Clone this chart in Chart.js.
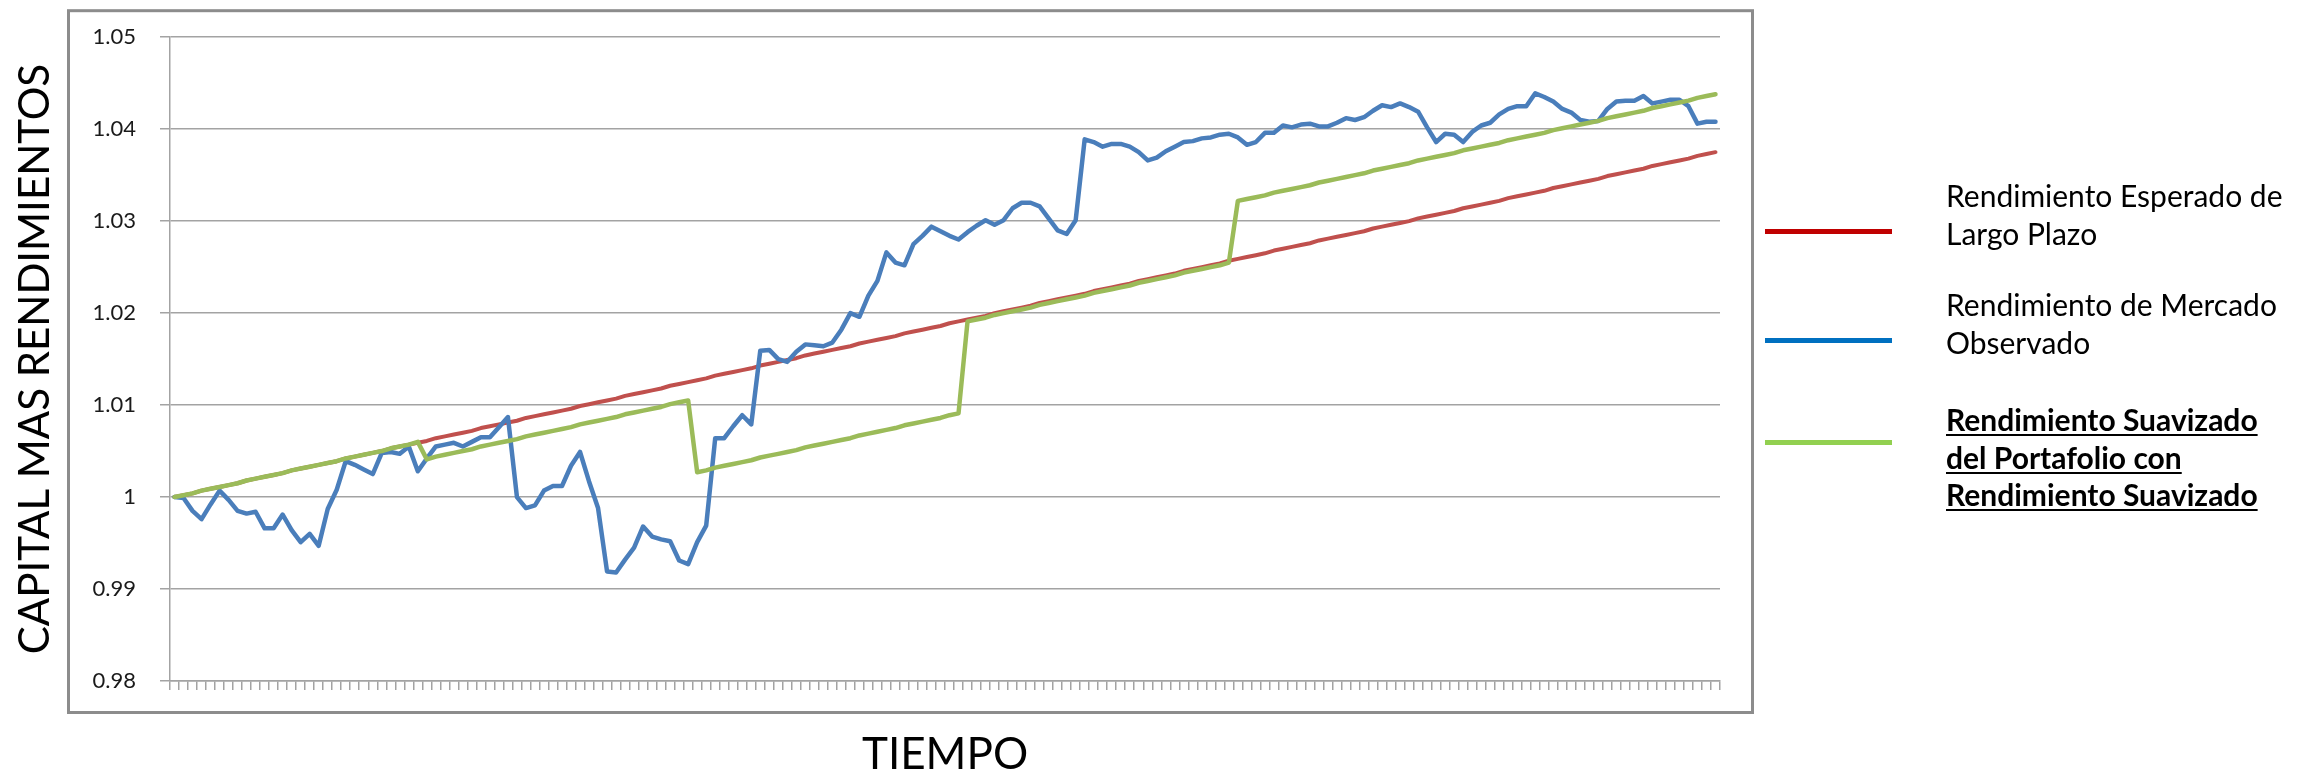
<!DOCTYPE html>
<html>
<head>
<meta charset="utf-8">
<title>Capital mas rendimientos</title>
<script src="https://cdn.jsdelivr.net/npm/chart.js@4.4.1/dist/chart.umd.min.js"></script>
<style>
  html, body { margin: 0; padding: 0; background: #fff; }
  #wrap { position: relative; width: 2312px; height: 773px; overflow: hidden; }
  #chart { position: absolute; left: 0; top: 0; }
  .swatch { position: absolute; left: 1765px; width: 127px; height: 5px; }
  .entry { position: absolute; left: 1946px; font-family: Lato, sans-serif; font-size: 30px;
           line-height: 37.5px; color: #000; white-space: nowrap; }
  .entry.strong { font-weight: bold; text-decoration: underline; text-decoration-thickness: 2px;
                  text-underline-offset: 3px; }
</style>
</head>
<body>
<div id="wrap">
  <canvas id="chart" width="2312" height="773"></canvas>
  <div id="legend"></div>
</div>
<script>
// periodos (eje x sin etiquetas)
var periods = Array.from({ length: 172 }, (_, i) => i + 1);

var yTickValues = [0.98, 0.99, 1.00, 1.01, 1.02, 1.03, 1.04, 1.05];
var yTickLabels = ['0.98', '0.99', '1', '1.01', '1.02', '1.03', '1.04', '1.05'];

var seriesNames = [
    'Rendimiento Esperado de Largo Plazo',
    'Rendimiento de Mercado Observado',
    'Rendimiento Suavizado del Portafolio con Rendimiento Suavizado'
];
var legendLines = [
    ['Rendimiento Esperado de', 'Largo Plazo'],
    ['Rendimiento de Mercado', 'Observado'],
    ['Rendimiento Suavizado', 'del Portafolio con', 'Rendimiento Suavizado']
];

var esperado = [
    1.0000, 1.0002, 1.0004, 1.0007, 1.0009, 1.0011, 1.0013, 1.0015, 1.0018, 1.0020,
    1.0022, 1.0024, 1.0026, 1.0029, 1.0031, 1.0033, 1.0035, 1.0037, 1.0039, 1.0042,
    1.0044, 1.0046, 1.0048, 1.0050, 1.0053, 1.0055, 1.0057, 1.0059, 1.0061, 1.0064,
    1.0066, 1.0068, 1.0070, 1.0072, 1.0075, 1.0077, 1.0079, 1.0081, 1.0083, 1.0086,
    1.0088, 1.0090, 1.0092, 1.0094, 1.0096, 1.0099, 1.0101, 1.0103, 1.0105, 1.0107,
    1.0110, 1.0112, 1.0114, 1.0116, 1.0118, 1.0121, 1.0123, 1.0125, 1.0127, 1.0129,
    1.0132, 1.0134, 1.0136, 1.0138, 1.0140, 1.0143, 1.0145, 1.0147, 1.0149, 1.0151,
    1.0154, 1.0156, 1.0158, 1.0160, 1.0162, 1.0164, 1.0167, 1.0169, 1.0171, 1.0173,
    1.0175, 1.0178, 1.0180, 1.0182, 1.0184, 1.0186, 1.0189, 1.0191, 1.0193, 1.0195,
    1.0197, 1.0200, 1.0202, 1.0204, 1.0206, 1.0208, 1.0211, 1.0213, 1.0215, 1.0217,
    1.0219, 1.0221, 1.0224, 1.0226, 1.0228, 1.0230, 1.0232, 1.0235, 1.0237, 1.0239,
    1.0241, 1.0243, 1.0246, 1.0248, 1.0250, 1.0252, 1.0254, 1.0257, 1.0259, 1.0261,
    1.0263, 1.0265, 1.0268, 1.0270, 1.0272, 1.0274, 1.0276, 1.0279, 1.0281, 1.0283,
    1.0285, 1.0287, 1.0289, 1.0292, 1.0294, 1.0296, 1.0298, 1.0300, 1.0303, 1.0305,
    1.0307, 1.0309, 1.0311, 1.0314, 1.0316, 1.0318, 1.0320, 1.0322, 1.0325, 1.0327,
    1.0329, 1.0331, 1.0333, 1.0336, 1.0338, 1.0340, 1.0342, 1.0344, 1.0346, 1.0349,
    1.0351, 1.0353, 1.0355, 1.0357, 1.0360, 1.0362, 1.0364, 1.0366, 1.0368, 1.0371,
    1.0373, 1.0375
];

var mercado = [
    1.0000, 0.9999, 0.9985, 0.9976, 0.9992, 1.0007, 0.9997, 0.9985, 0.9982, 0.9984,
    0.9966, 0.9966, 0.9981, 0.9964, 0.9951, 0.9960, 0.9947, 0.9987, 1.0008, 1.0039,
    1.0035, 1.0030, 1.0025, 1.0048, 1.0049, 1.0047, 1.0055, 1.0028, 1.0042, 1.0055,
    1.0057, 1.0059, 1.0055, 1.0060, 1.0065, 1.0065, 1.0076, 1.0087, 1.0000, 0.9988,
    0.9991, 1.0007, 1.0012, 1.0012, 1.0034, 1.0049, 1.0017, 0.9988, 0.9919, 0.9918,
    0.9932, 0.9945, 0.9968, 0.9957, 0.9954, 0.9952, 0.9931, 0.9927, 0.9951, 0.9969,
    1.0064, 1.0064, 1.0077, 1.0089, 1.0079, 1.0159, 1.0160, 1.0150, 1.0147, 1.0158,
    1.0166, 1.0165, 1.0164, 1.0168, 1.0182, 1.0200, 1.0196, 1.0219, 1.0235, 1.0266,
    1.0255, 1.0252, 1.0275, 1.0284, 1.0294, 1.0289, 1.0284, 1.0280, 1.0288, 1.0295,
    1.0301, 1.0296, 1.0301, 1.0314, 1.0320, 1.0320, 1.0316, 1.0303, 1.0290, 1.0286,
    1.0301, 1.0389, 1.0386, 1.0381, 1.0384, 1.0384, 1.0381, 1.0375, 1.0366, 1.0369,
    1.0376, 1.0381, 1.0386, 1.0387, 1.0390, 1.0391, 1.0394, 1.0395, 1.0391, 1.0383,
    1.0386, 1.0396, 1.0396, 1.0404, 1.0402, 1.0405, 1.0406, 1.0403, 1.0403, 1.0407,
    1.0412, 1.0410, 1.0413, 1.0420, 1.0426, 1.0424, 1.0428, 1.0424, 1.0419, 1.0402,
    1.0386, 1.0395, 1.0394, 1.0386, 1.0397, 1.0404, 1.0407, 1.0416, 1.0422, 1.0425,
    1.0425, 1.0439, 1.0435, 1.0430, 1.0422, 1.0418, 1.0410, 1.0408, 1.0409, 1.0422,
    1.0430, 1.0431, 1.0431, 1.0436, 1.0428, 1.0430, 1.0432, 1.0432, 1.0425, 1.0406,
    1.0408, 1.0408
];

var suavizado = [
    1.0000, 1.0002, 1.0004, 1.0007, 1.0009, 1.0011, 1.0013, 1.0015, 1.0018, 1.0020,
    1.0022, 1.0024, 1.0026, 1.0029, 1.0031, 1.0033, 1.0035, 1.0037, 1.0039, 1.0042,
    1.0044, 1.0046, 1.0048, 1.0050, 1.0053, 1.0055, 1.0057, 1.0060, 1.0041, 1.0044,
    1.0046, 1.0048, 1.0050, 1.0052, 1.0055, 1.0057, 1.0059, 1.0061, 1.0063, 1.0066,
    1.0068, 1.0070, 1.0072, 1.0074, 1.0076, 1.0079, 1.0081, 1.0083, 1.0085, 1.0087,
    1.0090, 1.0092, 1.0094, 1.0096, 1.0098, 1.0101, 1.0103, 1.0105, 1.0027, 1.0029,
    1.0032, 1.0034, 1.0036, 1.0038, 1.0040, 1.0043, 1.0045, 1.0047, 1.0049, 1.0051,
    1.0054, 1.0056, 1.0058, 1.0060, 1.0062, 1.0064, 1.0067, 1.0069, 1.0071, 1.0073,
    1.0075, 1.0078, 1.0080, 1.0082, 1.0084, 1.0086, 1.0089, 1.0091, 1.0191, 1.0193,
    1.0195, 1.0198, 1.0200, 1.0202, 1.0204, 1.0206, 1.0209, 1.0211, 1.0213, 1.0215,
    1.0217, 1.0219, 1.0222, 1.0224, 1.0226, 1.0228, 1.0230, 1.0233, 1.0235, 1.0237,
    1.0239, 1.0241, 1.0244, 1.0246, 1.0248, 1.0250, 1.0252, 1.0255, 1.0322, 1.0324,
    1.0326, 1.0328, 1.0331, 1.0333, 1.0335, 1.0337, 1.0339, 1.0342, 1.0344, 1.0346,
    1.0348, 1.0350, 1.0352, 1.0355, 1.0357, 1.0359, 1.0361, 1.0363, 1.0366, 1.0368,
    1.0370, 1.0372, 1.0374, 1.0377, 1.0379, 1.0381, 1.0383, 1.0385, 1.0388, 1.0390,
    1.0392, 1.0394, 1.0396, 1.0399, 1.0401, 1.0403, 1.0405, 1.0407, 1.0409, 1.0412,
    1.0414, 1.0416, 1.0418, 1.0420, 1.0423, 1.0425, 1.0427, 1.0429, 1.0431, 1.0434,
    1.0436, 1.0438
];

var lineColors = ['#C0504D', '#4A7EBB', '#9BBB59'];
var legendColors = ['#C00000', '#0070C0', '#92D050'];

// marco gris alrededor del area del grafico (como en Excel)
var frameBox = {
    id: 'frameBox',
    beforeDraw: function(chart) {
        var ctx = chart.ctx;
        var a = chart.chartArea;
        ctx.save();
        ctx.strokeStyle = '#8c8c8c';
        ctx.lineWidth = 3;
        ctx.strokeRect(a.left - 101.5, a.top - 26.5, a.right - a.left + 134, a.bottom - a.top + 58);
        ctx.restore();
    }
};

var gridGray = '#a3a3a3';

var chart = new Chart(document.getElementById('chart').getContext('2d'), {
    type: 'line',
    data: {
        labels: periods,
        datasets: [
            { label: seriesNames[0], data: esperado, borderColor: lineColors[0], borderWidth: 4, order: 3 },
            { label: seriesNames[1], data: mercado, borderColor: lineColors[1], borderWidth: 4.5, order: 2 },
            { label: seriesNames[2], data: suavizado, borderColor: lineColors[2], borderWidth: 4.5, order: 1 }
        ]
    },
    options: {
        responsive: false,
        animation: false,
        devicePixelRatio: 1,
        layout: { padding: { left: 0, top: 35, right: 592, bottom: 0 } },
        elements: {
            point: { radius: 0, hoverRadius: 0 },
            line: { tension: 0, fill: false, borderJoinStyle: 'round', borderCapStyle: 'round' }
        },
        plugins: {
            legend: { display: false },
            tooltip: { enabled: false }
        },
        scales: {
            x: {
                type: 'category',
                offset: true,
                grid: { display: true, offset: true, drawOnChartArea: false, drawTicks: true,
                        tickLength: 9, color: gridGray, lineWidth: 1.5 },
                border: { display: true, color: gridGray, width: 1.5 },
                ticks: { display: false, autoSkip: false },
                title: { display: true, text: 'TIEMPO', color: '#000',
                         font: { family: 'Lato', size: 44, lineHeight: 0.82 }, padding: { top: 0, bottom: 0 } },
                afterFit: function(scale) { scale.height = 92; }
            },
            y: {
                min: 0.98,
                max: 1.05,
                afterBuildTicks: function(scale) {
                    scale.ticks = yTickValues.map(v => ({ value: v }));
                },
                ticks: {
                    callback: (v, i) => yTickLabels[i],
                    font: { family: 'Lato', size: 22 },
                    color: '#1a1a1a',
                    padding: 24
                },
                grid: { color: gridGray, lineWidth: 1.5, tickLength: 10 },
                border: { display: true, color: gridGray, width: 1.5 },
                title: { display: true, text: 'CAPITAL MAS RENDIMIENTOS', color: '#000',
                         font: { family: 'Lato', size: 42, lineHeight: 1.2 }, padding: { top: 10, bottom: 0 } },
                afterFit: function(scale) { scale.width = 170; }
            }
        }
    },
    plugins: [frameBox]
});

// leyenda en HTML (texto subrayado en la tercera serie)
var legendSpots = [
    { line: 231, text: 177 },
    { line: 340, text: 286 },
    { line: 442, text: 401 }
];
var legendBox = document.getElementById('legend');
chart.data.datasets.forEach((ds, i) => {
    var sw = document.createElement('div');
    sw.className = 'swatch';
    sw.style.top = (legendSpots[i].line - 2.5) + 'px';
    sw.style.background = legendColors[i];
    legendBox.appendChild(sw);

    var tx = document.createElement('div');
    tx.className = 'entry' + (i === 2 ? ' strong' : '');
    tx.style.top = legendSpots[i].text + 'px';
    tx.innerHTML = legendLines[i].join('<br>');
    tx.title = ds.label;
    legendBox.appendChild(tx);
});
</script>
</body>
</html>
